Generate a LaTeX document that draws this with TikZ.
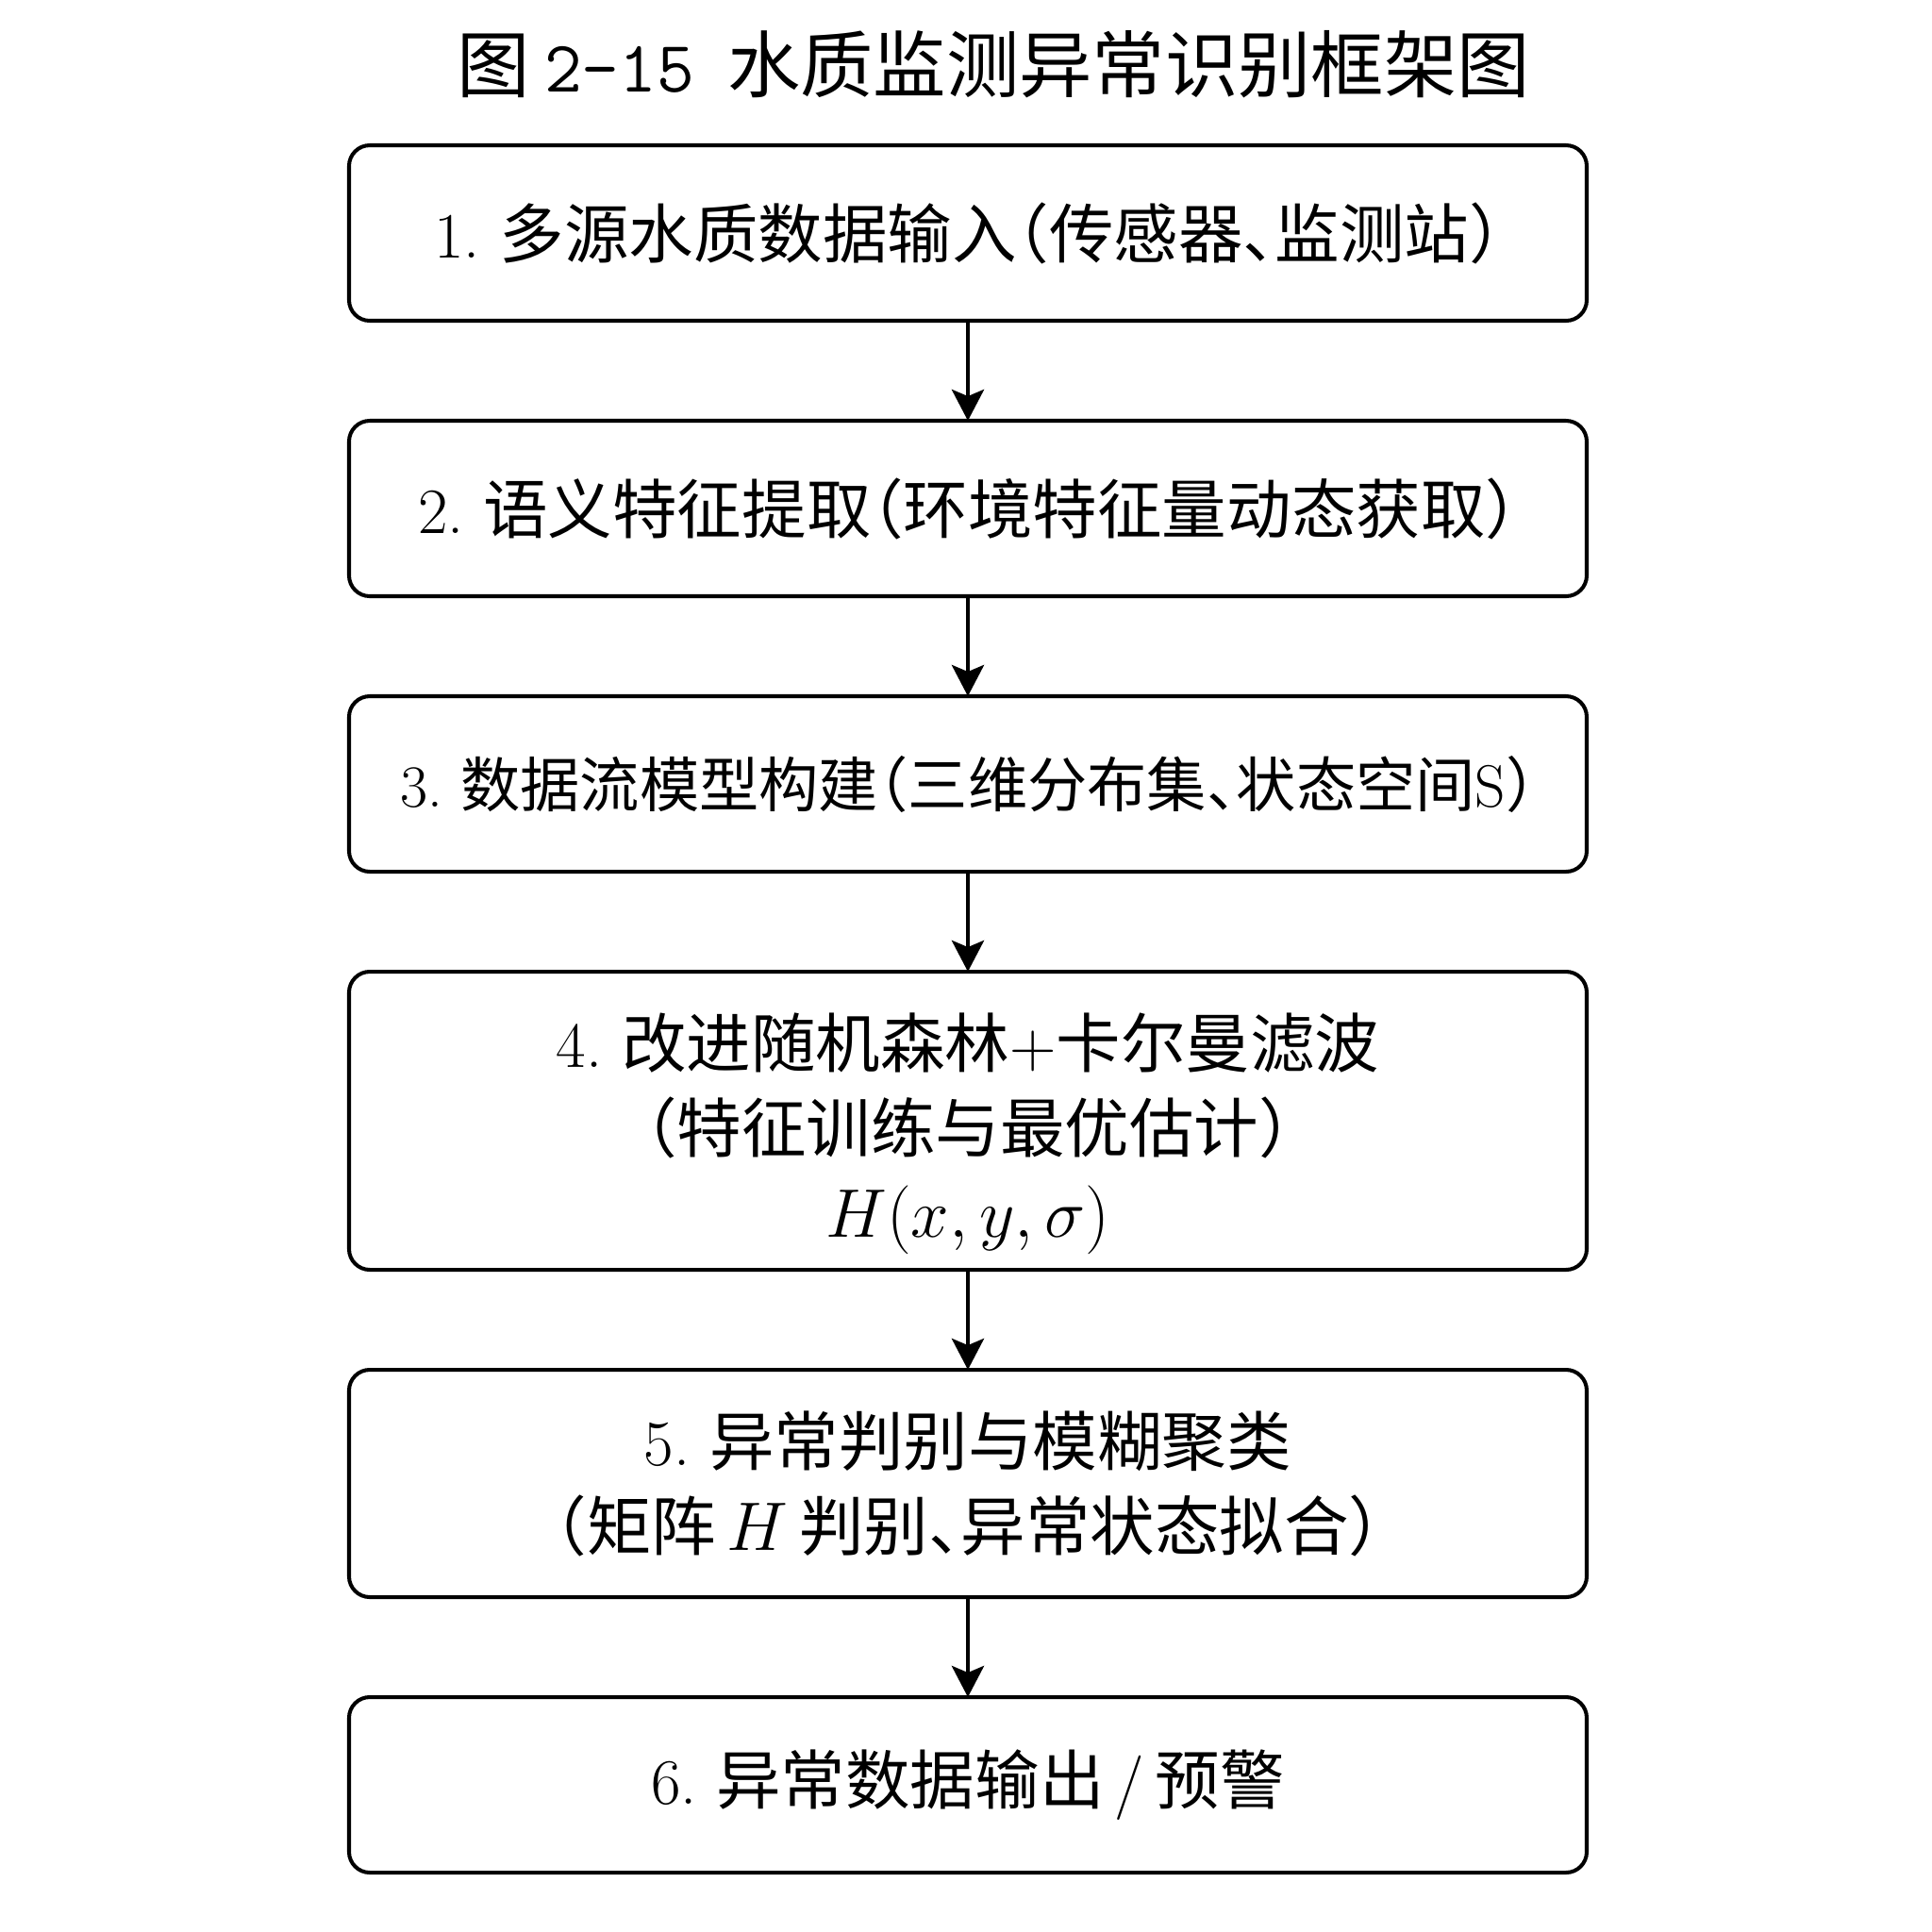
\documentclass[tikz,border=0pt]{standalone}
\usepackage{fontspec}
\newfontfamily\cjk[RawFeature=+halt]{Noto Sans CJK SC}
\usepackage{tikz}
\usetikzlibrary{arrows.meta,positioning}

\begin{document}
\begin{tikzpicture}[
  stage/.style={draw, line width=1.15pt, rounded corners=0.22cm, minimum width=13.12cm, minimum height=1.86cm, align=center, inner sep=0pt, outer sep=0pt, font=\fontsize{19.5}{25.6}\selectfont},
  flow/.style={-{Stealth[length=0.33cm,width=0.34cm,inset=0.07cm]}, line width=1.4pt}
]
  \useasboundingbox (0,0) rectangle (20.48,-20.48);

  \node[anchor=base, font=\fontsize{22}{26}\selectfont] (title) at (10.53,-0.97) {{\cjk 图}\hspace{0.2em}{\ttfamily 2-15}\hspace{0.45em}{\cjk 水质监测异常识别框架图}};

  \node[stage] (s1) at (10.26,-2.47) {1.\ {\cjk 多源水质数据输入（传感器、监测站）}};
  \node[stage, below=1.06cm of s1] (s2) {2.\ {\cjk 语义特征提取（环境特征量动态获取）}};
  \node[stage, below=1.06cm of s2, font=\fontsize{18}{25.6}\selectfont] (s3) {3.\ {\cjk 数据流模型构建（三维分布集、状态空间}S{\cjk ）}};
  \node[stage, below=1.06cm of s3, minimum height=3.16cm] (s4) {\rule{0pt}{0.85cm}4.\ {\cjk 改进随机森林}+{\cjk 卡尔曼滤波}\\ {\cjk （特征训练与最优估计）}\\ {\fontsize{21}{25.6}\selectfont $H(x,y,\sigma)$}};
  \node[stage, below=1.06cm of s4, minimum height=2.41cm] (s5) {5.\ {\cjk 异常判别与模糊聚类}\\ {\cjk （矩阵}\,$H$\,{\cjk 判别、异常状态拟合）}};
  \node[stage, below=1.06cm of s5] (s6) {6.\ {\cjk 异常数据输出}\,/\,{\cjk 预警}};

  \foreach \a/\b in {s1/s2, s2/s3, s3/s4, s4/s5, s5/s6}
    \draw[flow] (\a) -- (\b);
\end{tikzpicture}
\end{document}
